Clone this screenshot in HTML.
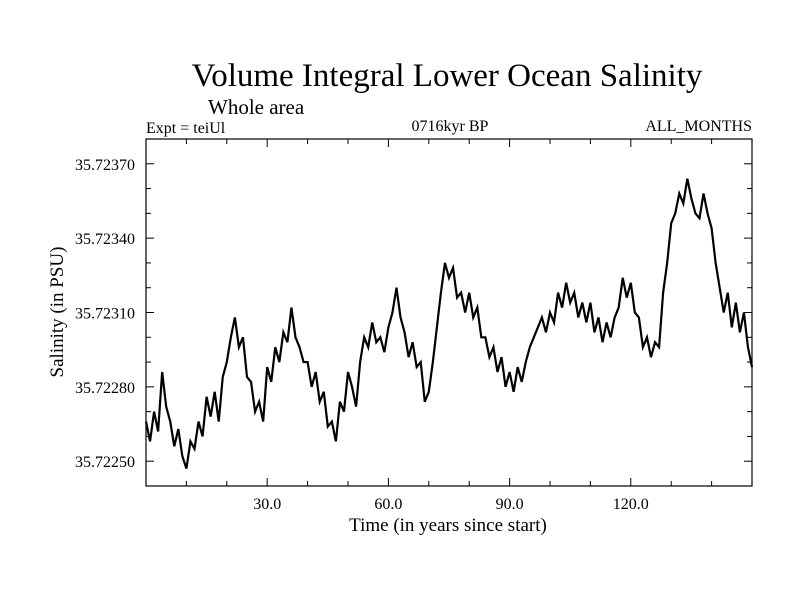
<!DOCTYPE html>
<html><head><meta charset="utf-8"><style>
body{margin:0;background:#fff}
svg text{font-family:"Liberation Serif",serif;fill:#000}
</style></head><body>
<svg id="c" width="800" height="600" viewBox="0 0 800 600">
<text x="447" y="86" font-size="33" text-anchor="middle">Volume Integral Lower Ocean Salinity</text>
<text x="208" y="114" font-size="21">Whole area</text>
<text x="146" y="133" font-size="16">Expt = teiUl</text>
<text x="450" y="131" font-size="16" text-anchor="middle">0716kyr BP</text>
<text x="752" y="131" font-size="16" text-anchor="end">ALL_MONTHS</text>
<text x="448" y="531" font-size="19" text-anchor="middle">Time (in years since start)</text>
<text transform="translate(63,312) rotate(-90)" font-size="19" text-anchor="middle">Salinity (in PSU)</text>
<g id="axes"></g>
<path id="line" fill="none" stroke="#000" stroke-width="2.2" stroke-linejoin="miter"></path>
<rect x="146" y="139" width="606" height="347" fill="none" stroke="#000" stroke-width="1.2"></rect>
</svg>
<script>
const xTicks = [30, 60, 90, 120];
const xTickLabels = ["30.0", "60.0", "90.0", "120.0"];
const yTicks = [35.7225, 35.7228, 35.7231, 35.7234, 35.7237];
const yTickLabels = ["35.72250", "35.72280", "35.72310", "35.72340", "35.72370"];
const years = [];
for (let i = 0; i <= 150; i++) years.push(i);
const salinity = [35.72266,35.72258,35.72270,35.72262,35.72286,35.72272,35.72266,35.72256,35.72263,35.72252,
35.72247,35.72258,35.72255,35.72266,35.72260,35.72276,35.72268,35.72278,35.72266,35.72284,
35.72290,35.72300,35.72308,35.72296,35.72300,35.72284,35.72282,35.72270,35.72274,35.72266,
35.72288,35.72282,35.72296,35.72290,35.72302,35.72298,35.72312,35.72300,35.72296,35.72290,
35.72290,35.72280,35.72286,35.72274,35.72278,35.72264,35.72266,35.72258,35.72274,35.72270,
35.72286,35.72280,35.72272,35.72290,35.72300,35.72296,35.72306,35.72298,35.72300,35.72294,
35.72304,35.72310,35.72320,35.72308,35.72302,35.72292,35.72298,35.72288,35.72290,35.72274,
35.72278,35.72290,35.72304,35.72318,35.72330,35.72324,35.72328,35.72316,35.72318,35.72310,
35.72318,35.72308,35.72312,35.72300,35.72300,35.72292,35.72296,35.72286,35.72292,35.72280,
35.72286,35.72278,35.72288,35.72282,35.72290,35.72296,35.72300,35.72304,35.72308,35.72302,
35.72310,35.72306,35.72318,35.72312,35.72322,35.72314,35.72318,35.72308,35.72314,35.72306,
35.72314,35.72302,35.72308,35.72298,35.72306,35.72300,35.72308,35.72312,35.72324,35.72316,
35.72322,35.72310,35.72308,35.72296,35.72300,35.72292,35.72298,35.72296,35.72318,35.72330,
35.72346,35.72350,35.72358,35.72354,35.72364,35.72356,35.72350,35.72348,35.72358,35.72350,
35.72344,35.72330,35.72320,35.72310,35.72318,35.72304,35.72314,35.72302,35.72310,35.72296,
35.72288];
const X0=146,X1=752,Y0=486,Y1=139,XMIN=0,XMAX=150,YMIN=35.7224,YMAX=35.7238;
const sx=v=>X0+(v-XMIN)/(XMAX-XMIN)*(X1-X0);
const sy=v=>Y0-(v-YMIN)/(YMAX-YMIN)*(Y0-Y1);
const NS="http://www.w3.org/2000/svg";
const g=document.getElementById('axes');
function ln(x1,y1,x2,y2,name){const l=document.createElementNS(NS,'line');
l.setAttribute('x1',x1);l.setAttribute('y1',y1);l.setAttribute('x2',x2);l.setAttribute('y2',y2);
l.setAttribute('stroke','#000');l.setAttribute('stroke-width','1');


g.appendChild(l);}
function tx(x,y,s,anchor,name){const t=document.createElementNS(NS,'text');
t.setAttribute('x',x);t.setAttribute('y',y);t.setAttribute('font-size','16');t.setAttribute('text-anchor',anchor);t.textContent=s;


g.appendChild(t);}
for(let v=10;v<150;v+=10){const x=sx(v);const L=(v%30===0)?8:5;
ln(x,Y0,x,Y0-L,'x-tick');ln(x,Y1,x,Y1+L,'x-tick-top');}
xTicks.forEach((v,i)=>tx(sx(v),Y0+23,xTickLabels[i],'middle','x-tick-label'));
for(let k=1;k<14;k++){const v=YMIN+k*0.0001;const y=sy(v);const major=(k%3===1);const L=major?8:5;
ln(X0,y,X0+L,y,'y-tick');ln(X1,y,X1-L,y,'y-tick-right');}
yTicks.forEach((v,i)=>tx(X0-11,sy(v)+6,yTickLabels[i],'end','y-tick-label'));
let d='';
salinity.forEach((v,i)=>{d+=(i?'L':'M')+sx(years[i]).toFixed(2)+','+sy(v).toFixed(2);});
document.getElementById('line').setAttribute('d',d);
</script>
</body></html>
